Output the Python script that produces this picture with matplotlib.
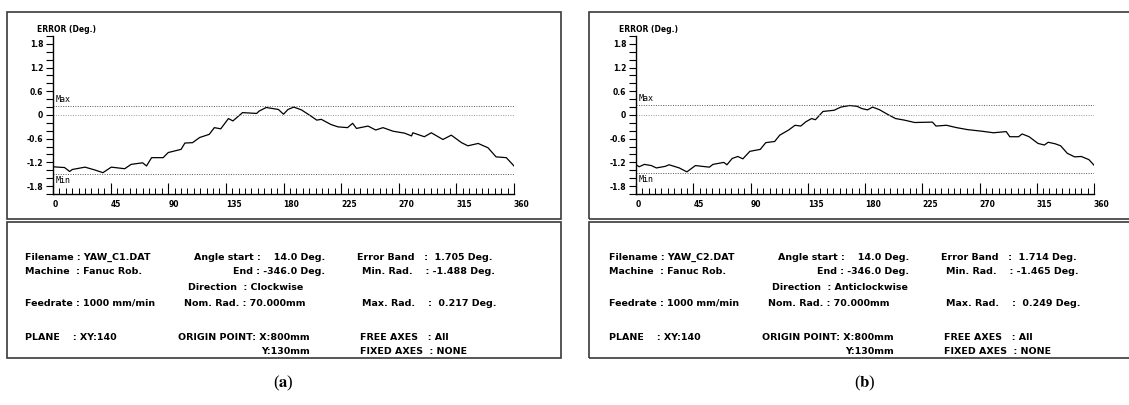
import numpy as np
import matplotlib.pyplot as plt
from matplotlib.patches import Rectangle
from matplotlib.ticker import MultipleLocator, FixedLocator

plt.rcParams['font.family'] = 'DejaVu Sans'
plt.rcParams['mathtext.fontset'] = 'stix'

W, H = 1129, 405

# --- curve (a): YAW_C1, clockwise ---
ang_a = [0, 4, 9, 13, 15, 25, 32.5, 39, 45.5, 56, 61, 70, 73, 77, 86, 90, 100, 103,
         109, 114.5, 122, 126, 131, 137, 140.5, 148, 159, 161, 166.5, 176, 180, 183.5,
         188, 194, 202, 206, 209.5, 217, 222.5, 230, 234, 237, 246, 252, 257.7, 265.5,
         274.6, 280, 281, 290, 295.4, 304.5, 311, 319, 324, 332, 339.7, 346, 354, 360]
err_a = [-1.31, -1.32, -1.33, -1.43, -1.38, -1.32, -1.39, -1.46, -1.32, -1.36, -1.25,
         -1.21, -1.29, -1.08, -1.08, -0.95, -0.87, -0.71, -0.70, -0.57, -0.49, -0.32,
         -0.35, -0.09, -0.15, 0.06, 0.04, 0.10, 0.19, 0.14, 0.02, 0.14, 0.20, 0.13,
         -0.04, -0.13, -0.11, -0.24, -0.30, -0.32, -0.21, -0.34, -0.28, -0.38, -0.32,
         -0.41, -0.46, -0.53, -0.45, -0.55, -0.45, -0.62, -0.51, -0.70, -0.78, -0.72,
         -0.83, -1.06, -1.08, -1.29]

# --- curve (b): YAW_C2, anticlockwise ---
ang_b = [0, 2.5, 6.6, 12, 16, 23, 26, 34, 40, 42.5, 46.7, 52, 57.7, 60.5, 69, 71.5,
         75.6, 80, 84, 89.5, 97.7, 102, 109, 113, 120, 125, 129.5, 133.6, 138, 141,
         147, 155.7, 161, 168, 173.7, 177.8, 182, 186, 191.6, 197, 204, 211, 219, 233,
         235.8, 244, 252, 260.6, 271.7, 281, 291, 293.8, 300.7, 303.5, 309, 316, 321,
         324, 329.6, 333.8, 339, 344.8, 350, 356, 360]
err_b = [-1.26, -1.31, -1.25, -1.28, -1.34, -1.30, -1.26, -1.34, -1.44, -1.38, -1.28,
         -1.30, -1.32, -1.25, -1.20, -1.26, -1.10, -1.05, -1.11, -0.92, -0.87, -0.70,
         -0.67, -0.51, -0.38, -0.26, -0.28, -0.17, -0.09, -0.12, 0.09, 0.12, 0.20, 0.24,
         0.22, 0.16, 0.13, 0.20, 0.13, 0.03, -0.09, -0.13, -0.19, -0.18, -0.28, -0.26,
         -0.32, -0.37, -0.41, -0.45, -0.42, -0.55, -0.55, -0.48, -0.55, -0.72, -0.76,
         -0.69, -0.73, -0.78, -0.97, -1.06, -1.05, -1.13, -1.27]

max_a, min_a = 0.217, -1.488
max_b, min_b = 0.249, -1.465

y_ticks = [1.8, 1.2, 0.6, 0, -0.6, -1.2, -1.8]
y_labels = ['1.8', '1.2', '0.6', '0', '-0.6', '-1.2', '-1.8']
x_ticks = [0, 45, 90, 135, 180, 225, 270, 315, 360]
x_labels = ['0', '45', '90', '135', '180', '225', '270', '315', '360']

info_a = ['Filename : YAW_C1.DAT', 'Machine  : Fanuc Rob.', 'Feedrate : 1000 mm/min',
          'PLANE    : XY:140', 'Angle start :    14.0 Deg.', 'End : -346.0 Deg.',
          'Direction  : Clockwise', 'Nom. Rad. : 70.000mm', 'ORIGIN POINT: X:800mm',
          'Y:130mm', 'Error Band   :  1.705 Deg.', 'Min. Rad.    : -1.488 Deg.',
          'Max. Rad.    :  0.217 Deg.', 'FREE AXES   : All', 'FIXED AXES  : NONE']
info_b = ['Filename : YAW_C2.DAT', 'Machine  : Fanuc Rob.', 'Feedrate : 1000 mm/min',
          'PLANE    : XY:140', 'Angle start :    14.0 Deg.', 'End : -346.0 Deg.',
          'Direction  : Anticlockwise', 'Nom. Rad. : 70.000mm', 'ORIGIN POINT: X:800mm',
          'Y:130mm', 'Error Band   :  1.714 Deg.', 'Min. Rad.    : -1.465 Deg.',
          'Max. Rad.    :  0.249 Deg.', 'FREE AXES   : All', 'FIXED AXES  : NONE']

# layout of the info texts: (x px, y px, ha)
info_pos = [(25, 257, 'left'), (25, 272, 'left'), (25, 303, 'left'), (25, 337, 'left'),
            (325, 257, 'right'), (325, 272, 'right'), (188, 288, 'left'),
            (184, 303, 'left'), (310, 337, 'right'), (310, 352, 'right'),
            (357, 257, 'left'), (362, 272, 'left'), (362, 303, 'left'),
            (360, 337, 'left'), (360, 352, 'left')]

fig = plt.figure(figsize=(W / 100, H / 100), dpi=100)


def fx(px):
    return px / W


def fy(py):
    return 1 - py / H


def box(x0, y0, x1, y1):
    fig.patches.append(Rectangle((fx(x0), fy(y1)), fx(x1) - fx(x0), fy(y0) - fy(y1),
                                 transform=fig.transFigure, fill=False,
                                 edgecolor='#3a3a3a', lw=1.2))


def panel(x0, ax_left, ax_w, ang, err, vmax, vmin, info, cap, shift):
    box(x0, 12, x0 + 554, 219)
    box(x0, 222, x0 + 554, 358)
    ax = fig.add_axes([fx(ax_left), fy(194), ax_w / W, 158 / H])
    ax.set_xlim(0, 360)
    ax.set_ylim(-2, 2)
    for s in ['top', 'right']:
        ax.spines[s].set_visible(False)
    ax.spines['left'].set_linewidth(1)
    ax.spines['bottom'].set_linewidth(1)

    ax.plot(ang, err, color='black', lw=0.9)
    ax.hlines(vmax, 0, 360, color='#555555', lw=0.7, linestyles=(0, (1, 1.5)))
    ax.hlines(0, 0, 360, color='#999999', lw=0.7, linestyles=(0, (1, 1.5)))
    ax.hlines(vmin, 0, 360, color='#555555', lw=0.7, linestyles=(0, (1, 1.5)))
    ax.text(2, vmax + 0.06, 'Max', family='DejaVu Sans Mono', fontsize=6, va='bottom')
    ax.text(2, vmin - 0.06, 'Min', family='DejaVu Sans Mono', fontsize=6, va='top')

    ax.yaxis.set_major_locator(FixedLocator(y_ticks))
    ax.set_yticklabels(y_labels)
    ax.yaxis.set_minor_locator(MultipleLocator(0.2))
    ax.tick_params(axis='y', which='both', direction='out', length=5, width=0.8,
                   labelsize=5.5, pad=2)
    ax.xaxis.set_major_locator(FixedLocator(x_ticks))
    ax.set_xticklabels(x_labels)
    ax.xaxis.set_minor_locator(MultipleLocator(5))
    ax.tick_params(axis='x', which='major', direction='in', length=8, width=0.8,
                   labelsize=5.5, pad=4)
    ax.tick_params(axis='x', which='minor', direction='in', length=4, width=0.7)
    for lb in ax.get_xticklabels():
        lb.set_ha('left')
        lb.set_fontweight('bold')
    for lb in ax.get_yticklabels():
        lb.set_fontweight('bold')

    fig.text(fx(x0 + 30), fy(30), 'ERROR (Deg.)', fontsize=5.5, fontweight='bold',
             va='center')
    for t, (px, py, ha) in zip(info, info_pos):
        fig.text(fx(px + shift), fy(py), t, fontsize=6.8, fontweight='bold',
                 ha=ha, va='center')
    fig.text(fx(x0 + 276), fy(383), '(' + r'$\mathbf{' + cap + '}$' + ')',
             fontsize=12, family='Liberation Serif', ha='center', va='center')


panel(7, 53, 461, ang_a, err_a, max_a, min_a, info_a, 'a', 0)
panel(589, 636, 458, ang_b, err_b, max_b, min_b, info_b, 'b', 584)

fig.savefig('out.png', dpi=100)
